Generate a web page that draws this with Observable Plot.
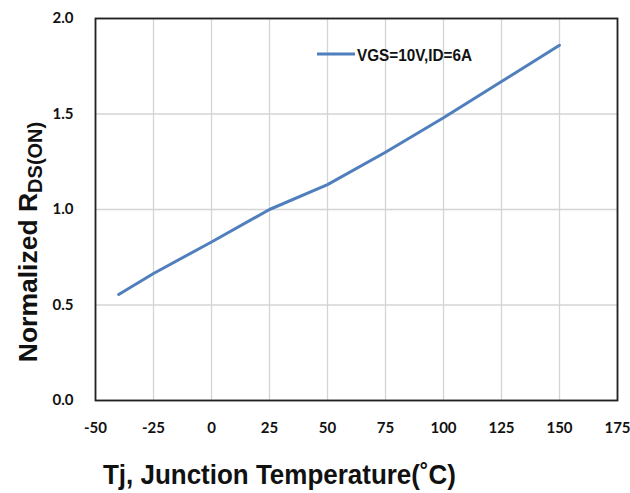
<!DOCTYPE html>
<html>
<head>
<meta charset="utf-8">
<script src="https://cdn.jsdelivr.net/npm/d3@7"></script>
<script src="https://cdn.jsdelivr.net/npm/@observablehq/plot@0.6"></script>
<style>
  html, body { margin: 0; padding: 0; background: #fff; }
  #chart svg { display: block; }
</style>
</head>
<body>
<div id="chart"></div>
<script>
// Data
const tempC = [-40, -25, 0, 25, 50, 75, 100, 125, 150];
const rdsNorm = [0.555, 0.665, 0.83, 1.0, 1.13, 1.30, 1.48, 1.67, 1.86];
const xTicks = [-50, -25, 0, 25, 50, 75, 100, 125, 150, 175];
const yTicks = [0, 0.5, 1.0, 1.5, 2.0];
const seriesLabel = "VGS=10V,ID=6A";
const xTitle = "Tj, Junction Temperature(˚C)";
const yTitleMain = "Normalized R";
const yTitleSub = "DS(ON)";

const data = tempC.map((t, i) => ({t, r: rdsNorm[i]}));
const lineColor = "#4f7fbc";

const W = 630, H = 493;
const mL = 95, mR = 13, mT = 18, mB = 93;

const chart = Plot.plot({
  width: W,
  height: H,
  marginLeft: mL,
  marginRight: mR,
  marginTop: mT,
  marginBottom: mB,
  style: {fontFamily: "Lato, 'Open Sans', sans-serif", fontSize: "15px", fontWeight: "bold", color: "#111", background: "#fff"},
  x: {domain: [-50, 175], ticks: xTicks, tickSize: 0, tickPadding: 22, tickFormat: d => String(d), label: null},
  y: {domain: [0, 2], ticks: yTicks, tickSize: 0, tickPadding: 22, tickFormat: d3.format(".1f"), label: null},
  marks: [
    Plot.gridX(xTicks, {stroke: "#d4d4d4", strokeOpacity: 1, strokeWidth: 1.3}),
    Plot.gridY(yTicks, {stroke: "#d4d4d4", strokeOpacity: 1, strokeWidth: 1.3}),
    Plot.line(data, {x: "t", y: "r", stroke: lineColor, strokeWidth: 3}),
    Plot.frame({stroke: "#222", strokeWidth: 1.8})
  ]
});
document.getElementById("chart").appendChild(chart);

const svg = d3.select(chart);
const sansBold = "'Liberation Sans', Arial, sans-serif";
// Legend
const lg = svg.append("g");
lg.append("line").attr("x1", 317).attr("x2", 355).attr("y1", 54).attr("y2", 54)
  .attr("stroke", lineColor).attr("stroke-width", 3);
lg.append("text").attr("x", 357).attr("y", 61)
  .attr("text-anchor", "start")
  .attr("font-family", sansBold)
  .attr("font-weight", "bold").attr("font-size", 17).attr("fill", "#111")
  .attr("textLength", 115).attr("lengthAdjust", "spacingAndGlyphs")
  .text(seriesLabel);

// X title
svg.append("text").attr("x", 103).attr("y", 484).attr("text-anchor", "start")
  .attr("font-family", sansBold)
  .attr("font-weight", "bold").attr("font-size", 27).attr("fill", "#111")
  .attr("textLength", 353).attr("lengthAdjust", "spacingAndGlyphs")
  .text(xTitle);

// Y title with subscript
const yt = svg.append("text")
  .attr("transform", "translate(37,242) rotate(-90)")
  .attr("text-anchor", "middle")
  .attr("font-family", sansBold)
  .attr("font-weight", "bold").attr("font-size", 26.5).attr("fill", "#111");
yt.append("tspan").text(yTitleMain);
yt.append("tspan").attr("font-size", 20).attr("dy", 5).text(yTitleSub);
</script>
</body>
</html>
